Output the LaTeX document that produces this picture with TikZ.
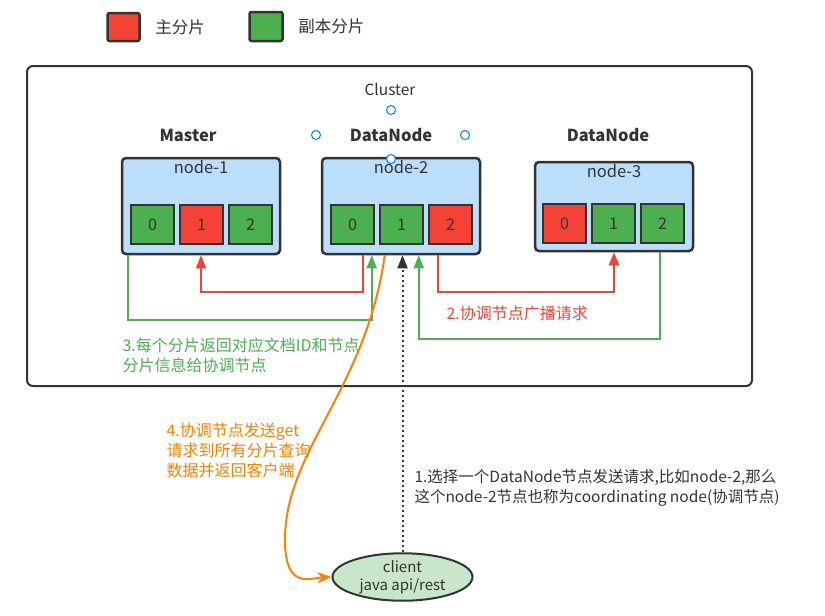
\documentclass[tikz,border=0pt]{standalone}
\usepackage{fontspec}
\setmainfont{Noto Sans CJK SC}
\usetikzlibrary{shapes.geometric, arrows.meta, positioning, calc}
\definecolor{lineC}{HTML}{333333}
\definecolor{primC}{HTML}{F44336}
\definecolor{repC}{HTML}{4CAF50}
\definecolor{hostC}{HTML}{BBDEFB}
\definecolor{clientC}{HTML}{C8E6C9}
\definecolor{getC}{HTML}{FF8000}
\definecolor{handleC}{HTML}{007FFF}
\tikzset{
  legendbox/.style={rectangle, rounded corners=2pt, draw=lineC, line width=2.5pt,
                    minimum width=32pt, minimum height=28pt, inner sep=0pt},
  legendtxt/.style={font=\fontsize{16.5}{18}\selectfont, text=lineC, anchor=west},
  host/.style={rectangle, rounded corners=4pt, draw=lineC, fill=hostC, line width=2.5pt,
               minimum width=158pt, minimum height=96pt, inner sep=0pt},
  hostlbl/.style={font=\fontsize{16.5}{18}\selectfont, text=lineC, inner sep=1pt},
  role/.style={font=\bfseries\fontsize{16.5}{18}\selectfont, text=lineC},
  shard/.style={rectangle, draw=lineC, line width=2pt, minimum width=43pt,
                minimum height=39pt, inner sep=0pt, font=\fontsize{16}{18}\selectfont, text=lineC},
  prim/.style={shard, fill=primC},
  rep/.style={shard, fill=repC},
  step label/.style={font=\fontsize{16}{20}\selectfont, align=left, anchor=west},
  redarrow/.style={draw=primC, line width=2pt, -{Triangle[length=13pt,width=10pt]}},
  greenarrow/.style={draw=repC, line width=2pt, -{Triangle[length=13pt,width=10pt]}},
  handle/.style={draw=handleC, fill=white, line width=1pt},
}
\begin{document}
\begin{tikzpicture}[x=1pt, y=-1pt]
  \path[use as bounding box, fill=white] (0,0) rectangle (825,616);

  % legend
  \node[legendbox, fill=primC] (lgp) at (123.5,27) {};
  \node[legendtxt, right=11pt of lgp] (lgpt) {主分片};
  \node[legendbox, fill=repC, minimum width=33pt, minimum height=29pt] (lgr) at (266,26.5) {};
  \node[legendtxt, right=11pt of lgr] (lgrt) {副本分片};

  % cluster
  \draw[lineC, line width=2pt, rounded corners=6pt] (27,66) rectangle (752,386);
  \node[font=\fontsize{15.5}{17}\selectfont, text=lineC] (clu) at (390,89) {Cluster};
  \foreach \p in {(391,110),(316,135),(465,135)}
    \draw[handle] \p circle (4.5);

  \node[role] (r1) at (188,135) {Master};
  \node[role] (r2) at (391,135) {DataNode};
  \node[role] (r3) at (608,135) {DataNode};

  % hosts
  \node[host] (n1) at (201,206) {};
  \node[host] (n2) at (401,206) {};
  \node[host, minimum height=89pt] (n3) at (614,206.5) {};
  \node[hostlbl, below=2pt of n1.north] {node-1};
  \node[hostlbl, below=2pt of n2.north] {node-2};
  \node[hostlbl, below=2pt of n3.north] {node-3};
  \draw[handle] (391,159) circle (4.5);

  % shards
  \node[rep]  (n1s0) at (152.5,224.5) {0};
  \node[prim, right=4pt of n1s0] (n1s1) {1};
  \node[rep,  right=4pt of n1s1] (n1s2) {2};
  \node[rep]  (n2s0) at (352.5,224.5) {0};
  \node[rep,  right=4pt of n2s0] (n2s1) {1};
  \node[prim, right=4pt of n2s1] (n2s2) {2};
  \node[prim] (n3s0) at (564.5,223.5) {0};
  \node[rep,  right=4pt of n3s0] (n3s1) {1};
  \node[rep,  right=4pt of n3s1] (n3s2) {2};

  % client
  \node[ellipse, draw=lineC, fill=clientC, line width=2pt, minimum width=140pt,
        minimum height=44pt, inner sep=0pt, align=center, text=lineC,
        font=\fontsize{15}{18}\selectfont] (client) at (402.5,577) {client\\java api/rest};

  % broadcast / replies
  \draw[redarrow] ($(n2.south west)+(42,0)$) -- ++(0,37) -| (n1.south);
  \draw[redarrow] ($(n2.south west)+(117,0)$) -- ++(0,37) -| (n3.south);
  \draw[greenarrow] ($(n1.south west)+(7,0)$) -- ++(0,65) -| ($(n2.south west)+(51,0)$);
  \draw[greenarrow] ($(n3.south west)+(126,0)$) -- ++(0,87) -| ($(n2.south west)+(98,0)$);
  \draw[lineC, line width=2pt, dash pattern=on 2pt off 3pt,
        -{Triangle[length=13pt,width=10pt]}] (client.north) -- (client.north |- n2.south);
  \draw[getC, line width=2pt, -{Stealth[length=14pt,width=11pt,inset=4pt]}]
    ($(n2.south west)+(64,0)$) .. controls (366,390) and (285,450) .. (285,540)
    .. controls (285,590) and (310,578) .. (client.west);

  % labels
  \node[step label, text=primC] (t2) at (443,313) {2.协调节点广播请求};
  \node[step label, text=repC] (t3) at (119,355) {3.每个分片返回对应文档ID和节点\\分片信息给协调节点};
  \node[step label, text=getC] (t4) at (163,450) {4.协调节点发送get\\请求到所有分片查询\\数据并返回客户端};
  \node[step label, text=lineC, font=\fontsize{15.5}{20}\selectfont] (t1) at (411,488) {1.选择一个DataNode节点发送请求,比如node-2,那么\\这个node-2节点也称为coordinating node(协调节点)};
\end{tikzpicture}
\end{document}
